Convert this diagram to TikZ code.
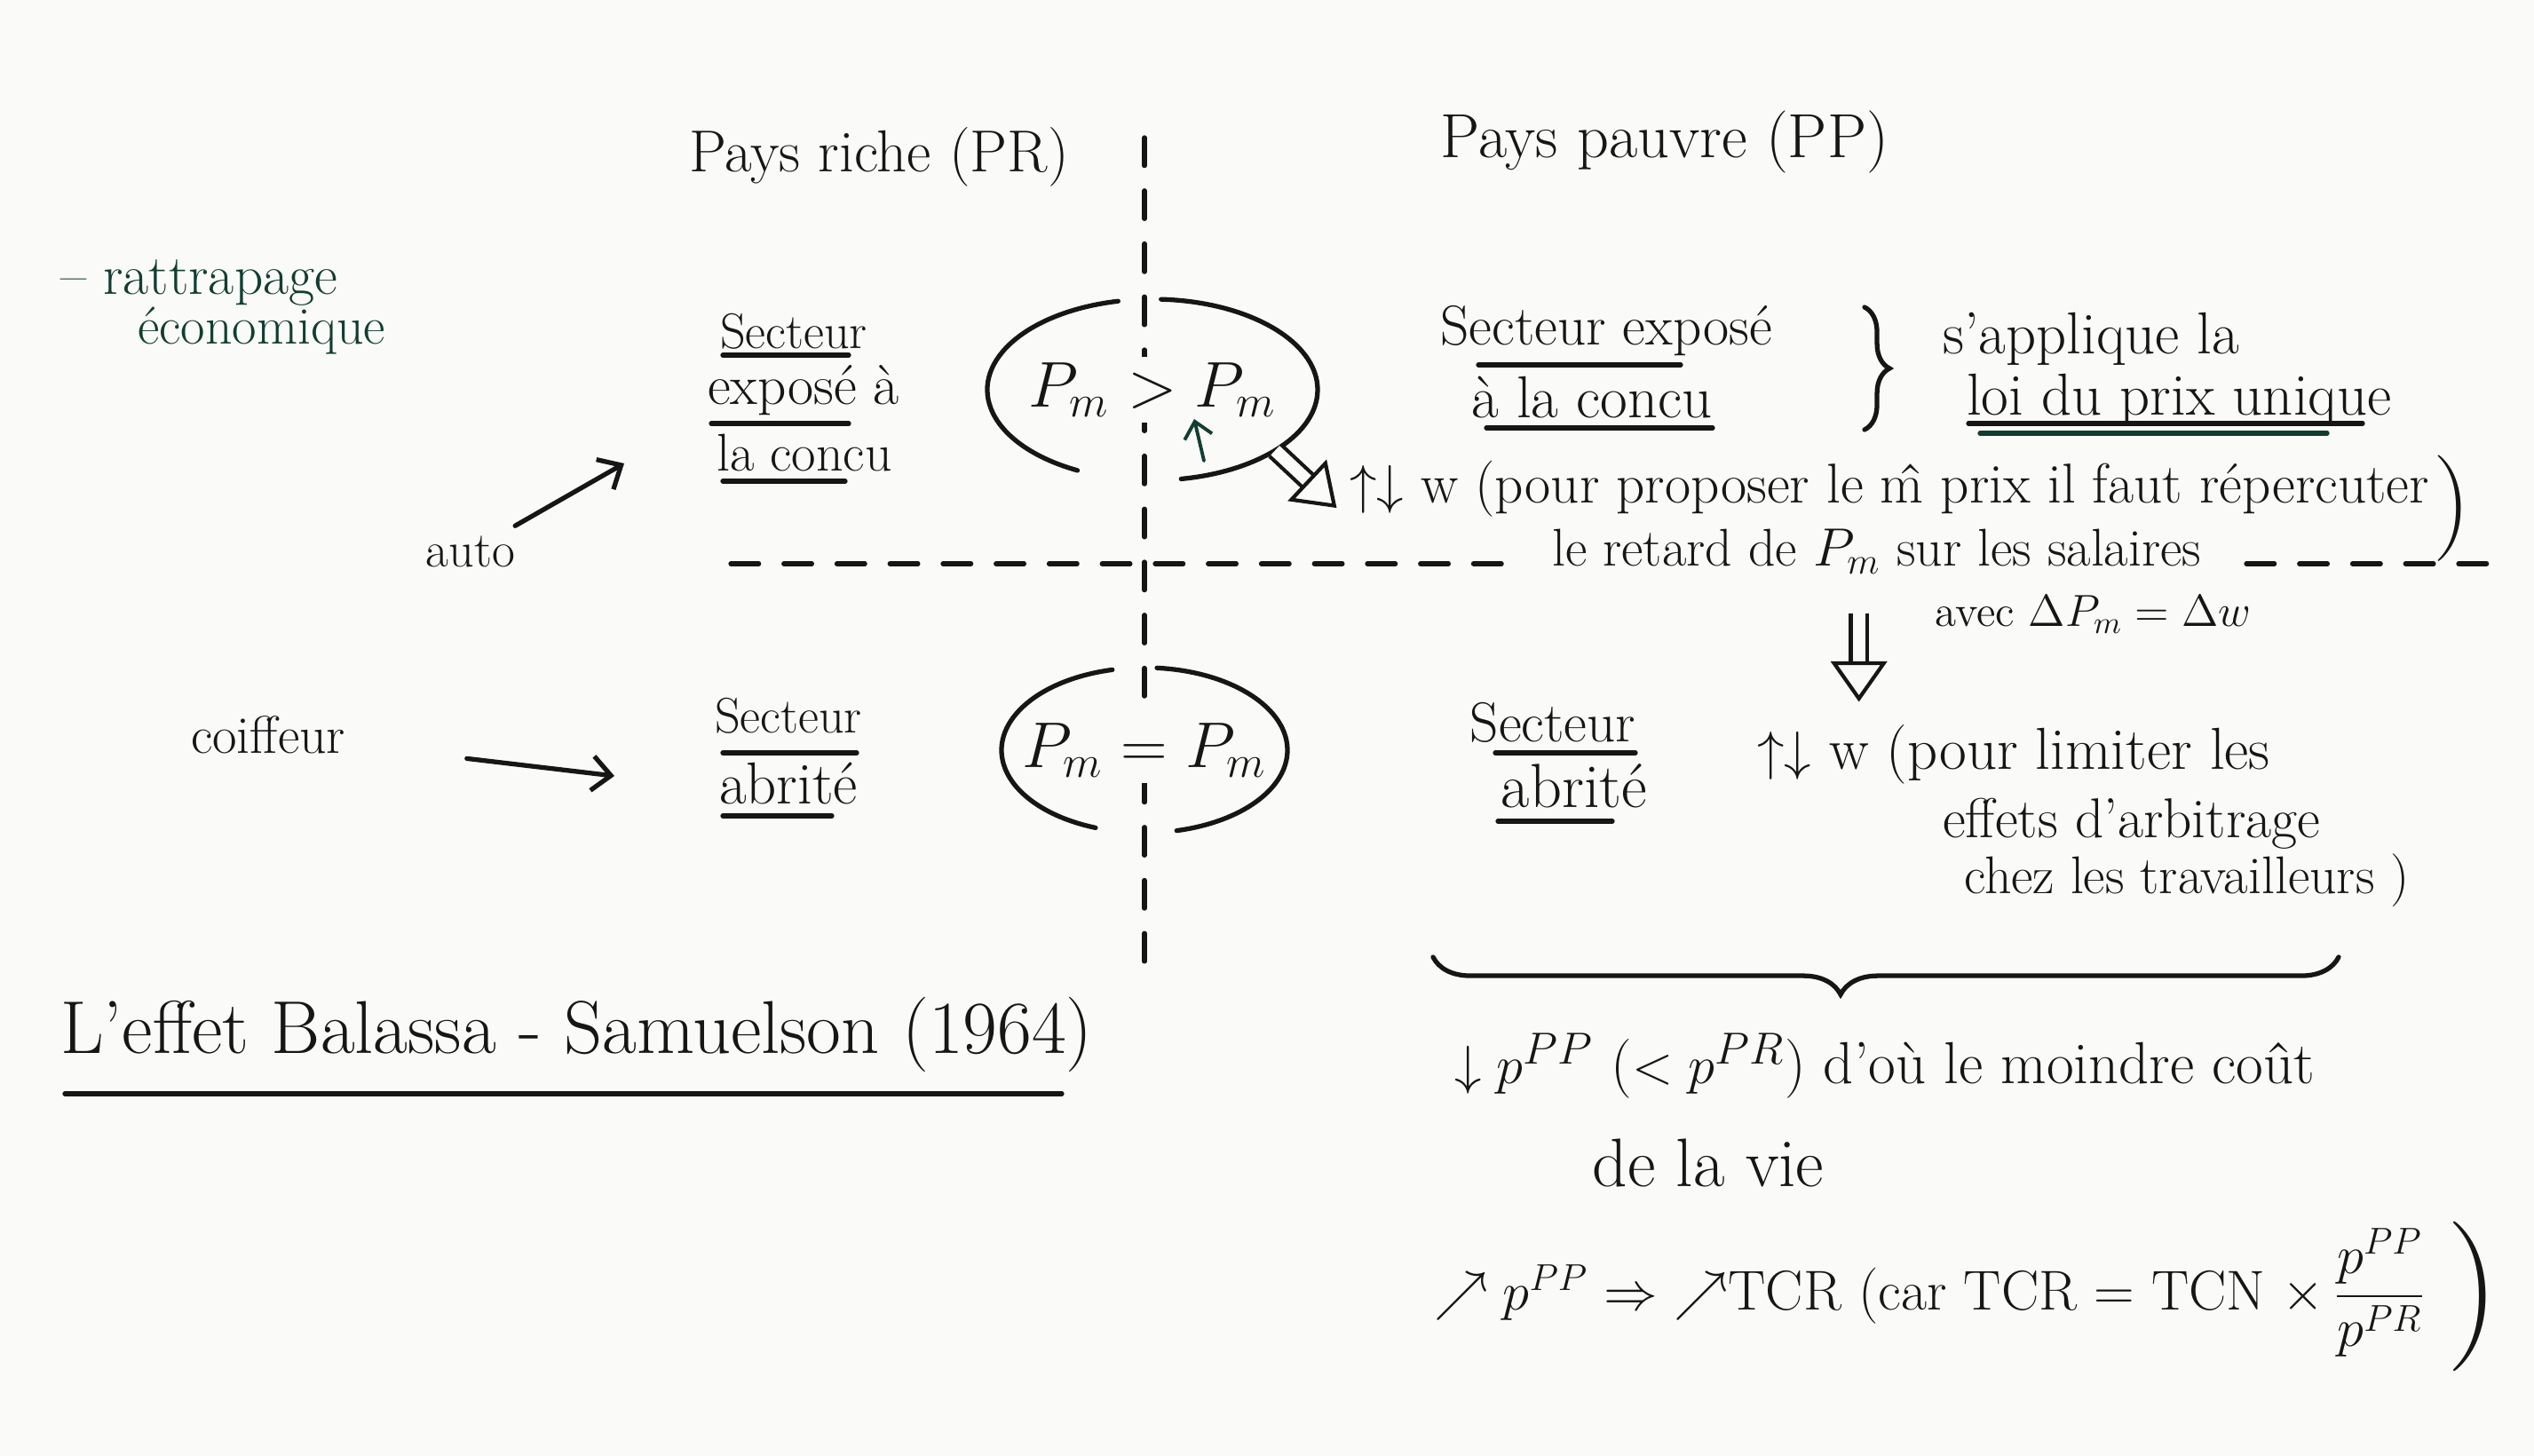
\documentclass[tikz,border=0pt]{standalone}
\usepackage{amsmath}
\usetikzlibrary{arrows.meta,shapes.geometric,decorations.pathreplacing}
\definecolor{ink}{RGB}{22,22,22}
\definecolor{greenink}{RGB}{18,62,50}
\definecolor{paper}{RGB}{250,250,248}

\begin{document}
\begin{tikzpicture}[
  hand/.style={font=\fontsize{#1}{#1}\selectfont, text=ink, inner sep=1pt},
  hand/.default=16,
  pmtxt/.style={font=\fontsize{#1}{#1}\selectfont, text=ink, fill=paper, inner sep=2pt},
  oval/.style={shape=ellipse, inner sep=0pt},
  pen/.style={draw=ink, line width=1.5pt, line cap=round},
  sep/.style={pen, dash pattern=on 9pt off 8pt},
  handarrow/.style={pen, -{Straight Barb[length=6pt,width=11pt]}},
  fatarrow/.style={draw=ink, double=paper, double distance=4pt, line width=1.2pt,
    -{Triangle[open,length=13pt,width=18pt,line width=1.2pt]}}
]
\fill[paper] (0,0) rectangle (28.54,-16.40);
\useasboundingbox (0,0) rectangle (28.54,-16.40);

% separators
\draw[sep] (12.89,-1.55) -- (12.89,-10.88);
\draw[sep] (8.23,-6.35) -- (17.05,-6.35);
\draw[sep] (25.30,-6.35) -- (28.12,-6.35);

% headers
\node[hand=19] (rich) at (9.90,-1.77) {Pays riche (PR)};
\node[hand=20] (poor) at (18.75,-1.60) {Pays pauvre (PP)};

% left notes
\node[hand=18, text=greenink, anchor=west] (catch) at (0.64,-3.19) {-- rattrapage};
\node[hand=17, text=greenink, anchor=west] (eco) at (1.51,-3.73) {économique};
\node[hand] (auto) at (5.30,-6.21) {auto};
\node[hand=17] (coif) at (3.02,-8.28) {coiffeur};
\coordinate (tipA) at (7.03,-5.22);
\coordinate (tipB) at (6.92,-8.74);
\draw[handarrow, shorten <=4pt] (auto) -- (tipA);
\draw[handarrow, shorten <=38pt] (coif) -- (tipB);

% exposed sector, rich country
\node[hand] (ex1) at (8.94,-3.73) {Secteur};
\node[hand=18] (ex2) at (9.05,-4.40) {exposé à};
\node[hand=17] (ex3) at (9.06,-5.10) {la concu};
\draw[pen] (8.14,-4.00) -- (9.56,-4.00);
\draw[pen] (8.01,-4.77) -- (9.56,-4.77);
\draw[pen] (8.14,-5.42) -- (9.52,-5.42);

% sheltered sector, rich country
\node[hand] (ab1) at (8.88,-8.06) {Secteur};
\node[hand=19] (ab2) at (8.88,-8.83) {abrité};
\draw[pen] (8.14,-8.48) -- (9.65,-8.48);
\draw[pen] (8.14,-9.19) -- (9.37,-9.19);

% price comparisons
\node[oval, minimum width=3.72cm, minimum height=2.04cm] (ineq) at (12.98,-4.39) {};
\node[pmtxt=22] (ineqtxt) at (ineq.center) {$P_m > P_m$};
\draw[pen] ([shift={(102:1.86 and 1.02)}]ineq.center) arc[start angle=102, end angle=243, x radius=1.86, y radius=1.02];
\draw[pen] ([shift={(87:1.86 and 1.02)}]ineq.center) arc[start angle=87, end angle=-80, x radius=1.86, y radius=1.02];
\coordinate (upS) at (13.56,-5.19);
\coordinate (upT) at (13.45,-4.72);
\draw[pen, draw=greenink, line width=1.1pt, -{Straight Barb[length=5pt,width=9pt]}] (upS) -- (upT);

\node[oval, minimum width=3.22cm, minimum height=1.86cm] (eq) at (12.89,-8.45) {};
\node[pmtxt=20] (eqtxt) at (eq.center) {$P_m = P_m$};
\draw[pen] ([shift={(103:1.61 and 0.93)}]eq.center) arc[start angle=103, end angle=250, x radius=1.61, y radius=0.93];
\draw[pen] ([shift={(85:1.61 and 0.93)}]eq.center) arc[start angle=85, end angle=-77, x radius=1.61, y radius=0.93];

% poor country, exposed sector
\node[hand=18] (pe1) at (18.09,-3.73) {Secteur exposé};
\node[hand=19] (pe2) at (17.93,-4.48) {à la concu};
\draw[pen] (16.65,-4.11) -- (18.93,-4.11);
\draw[pen] (16.74,-4.82) -- (19.29,-4.82);
\draw[pen, decorate, decoration={brace, amplitude=8pt}] (21.00,-3.46) -- (21.00,-4.84);
\node[hand=19, anchor=west] (appl) at (21.84,-3.82) {s'applique la};
\node[hand=19, anchor=west] (loi) at (22.11,-4.51) {loi du prix unique};
\draw[pen] (22.17,-4.77) -- (26.61,-4.77);
\draw[pen, draw=greenink] (22.30,-4.88) -- (26.21,-4.88);

\node[hand=18, anchor=west] (wage1) at (15.16,-5.51) {$\uparrow\downarrow$ w (pour proposer le \^m prix il faut répercuter};
\node[hand=17, anchor=west] (wage2) at (17.44,-6.21) {le retard de $P_m$ sur les salaires};
\node[hand=34] (par1) at (27.62,-5.73) {)};
\draw[fatarrow] ([shift={(-42:1.86 and 1.02)}]ineq.center) -- ([xshift=-3pt,yshift=-6pt]wage1.west);
\node[hand=14, anchor=west] (avec) at (21.75,-6.92) {avec $\Delta P_m = \Delta w$};
\draw[fatarrow] ([xshift=-0.2cm,yshift=-0.40cm]wage2.south) -- ++(0,-1.00);

% poor country, sheltered sector
\node[hand=18] (pa1) at (17.49,-8.14) {Secteur};
\node[hand=20] (pa2) at (17.73,-8.85) {abrité};
\draw[pen] (16.84,-8.48) -- (18.42,-8.48);
\draw[pen] (16.87,-9.25) -- (18.16,-9.25);
\node[hand=19, anchor=west] (lim1) at (19.75,-8.50) {$\uparrow\downarrow$ w (pour limiter les};
\node[hand=18, anchor=west] (lim2) at (21.84,-9.28) {effets d'arbitrage};
\node[hand=17, anchor=west] (lim3) at (22.08,-9.92) {chez les travailleurs )};

% consequence
\draw[pen, decorate, decoration={brace, amplitude=12pt, aspect=0.55}] (26.34,-10.78) -- (16.14,-10.78);
\node[hand=19, anchor=west] (cost) at (16.34,-12.01) {$\downarrow p^{PP}$ ($<p^{PR}$) d'où le moindre coût};
\node[hand=22] (life) at (19.24,-13.10) {de la vie};
\node[hand=18, anchor=west] (tcr) at (16.11,-14.56) {$\nearrow p^{PP} \Rightarrow\ \nearrow$TCR (car TCR = TCN $\times\,\dfrac{p^{PP}}{p^{PR}}$};
\node[hand=48] (tcrpar) at (27.85,-14.60) {)};

% title
\node[hand=24, anchor=west] (title) at (0.64,-11.65) {L'effet Balassa - Samuelson (1964)};
\draw[pen] (0.73,-12.32) -- (11.96,-12.32);
\end{tikzpicture}
\end{document}
